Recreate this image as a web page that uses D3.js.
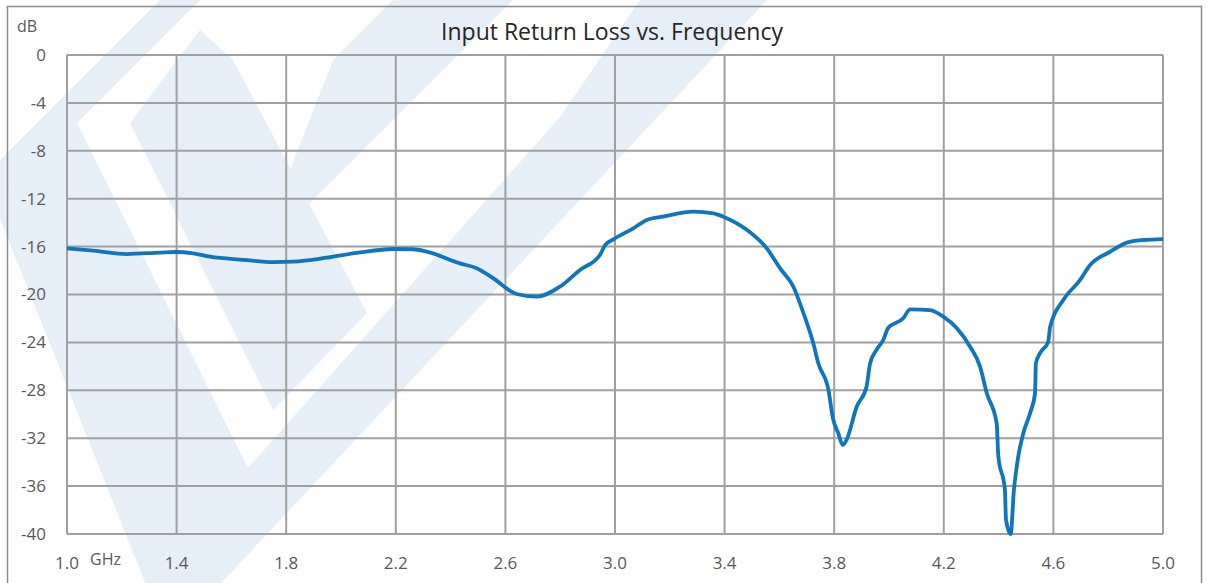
<!DOCTYPE html>
<html>
<head>
<meta charset="utf-8">
<script src="https://cdn.jsdelivr.net/npm/d3@7"></script>
<style>
  body { margin: 0; background: #fff; }
  text { font-family: "Open Sans", "Noto Sans", sans-serif; }
</style>
</head>
<body>
<div id="chart"></div>
<script>
// frequency (GHz) and return loss (dB)
const freq = [1.000, 1.096, 1.218, 1.339, 1.394, 1.461, 1.522, 1.643, 1.753, 1.826,
  1.948, 2.069, 2.191, 2.264, 2.313, 2.434, 2.495, 2.556, 2.641, 2.714,
  2.799, 2.872, 2.945, 2.964, 2.994, 3.067, 3.116, 3.176, 3.286, 3.359,
  3.395, 3.481, 3.554, 3.602, 3.651, 3.687, 3.724, 3.742, 3.779, 3.795,
  3.815, 3.831, 3.845, 3.882, 3.918, 3.931, 3.955, 3.979, 3.997, 4.052,
  4.077, 4.150, 4.198, 4.247, 4.296, 4.332, 4.357, 4.393, 4.399, 4.423,
  4.427, 4.444, 4.456, 4.472, 4.490, 4.515, 4.533, 4.536, 4.551, 4.581,
  4.588, 4.636, 4.697, 4.734, 4.807, 4.868, 4.928, 5.000];
const loss = [-16.14, -16.34, -16.62, -16.50, -16.45, -16.56, -16.84, -17.10, -17.30, -17.26,
  -16.93, -16.48, -16.20, -16.22, -16.42, -17.40, -17.80, -18.65, -19.96, -20.18,
  -19.35, -17.95, -16.70, -15.87, -15.40, -14.47, -13.78, -13.50, -13.08, -13.22,
  -13.50, -14.60, -16.15, -17.80, -19.35, -21.50, -24.10, -25.75, -27.97, -30.30,
  -31.60, -32.57, -32.15, -29.37, -27.70, -25.75, -24.60, -23.80, -22.80, -21.99,
  -21.24, -21.30, -21.85, -22.80, -24.36, -26.00, -28.25, -30.75, -33.50, -36.30,
  -38.80, -40.00, -36.30, -33.50, -31.60, -29.90, -28.25, -25.75, -24.90, -23.95,
  -22.70, -20.46, -18.80, -17.54, -16.43, -15.67, -15.45, -15.37];

const xTicks = [1.0, 1.4, 1.8, 2.2, 2.6, 3.0, 3.4, 3.8, 4.2, 4.6, 5.0];
const yTicks = [0, -4, -8, -12, -16, -20, -24, -28, -32, -36, -40];

const width = 1207, height = 583;
const margin = { top: 55, right: 44, bottom: 49, left: 67 };

const svg = d3.select("#chart")
  .append("svg")
  .attr("width", width)
  .attr("height", height);

// faint logo watermark behind the chart (decoration, not data)
const wmShapes = [
  [[160, 0], [200, 0], [0, 200], [0, 160]],
  [[0, 200], [77, 123], [248, 468], [560, 117], [640, 0], [767, 0], [168, 640], [0, 219]],
  [[130, 123], [177, 60], [200, 30], [233, 60], [367, 313], [273, 410]],
  [[290, 170], [333, 60], [393, 0], [513, 0], [308, 205]]
];
svg.append("g").selectAll("path").data(wmShapes).enter().append("path")
  .attr("d", d => "M" + d.join("L") + "Z")
  .attr("fill", "#e6eef7");

// outer frame
svg.append("rect")
  .attr("x", 7.5).attr("y", 6.5)
  .attr("width", 1194).attr("height", 600)
  .attr("fill", "none")
  .attr("stroke", "#8c8c8c")
  .attr("stroke-width", 1.5);

const x = d3.scaleLinear().domain([1, 5]).range([margin.left, width - margin.right]);
const y = d3.scaleLinear().domain([-40, 0]).range([height - margin.bottom, margin.top]);

const grid = svg.append("g").attr("stroke", "#a0a0a0").attr("stroke-width", 2);
grid.selectAll("line.v").data(xTicks).enter().append("line")
  .attr("x1", d => x(d)).attr("x2", d => x(d))
  .attr("y1", y(0)).attr("y2", y(-40));
grid.selectAll("line.h").data(yTicks).enter().append("line")
  .attr("x1", x(1)).attr("x2", x(5))
  .attr("y1", d => y(d)).attr("y2", d => y(d));

// tick labels
svg.append("g").selectAll("text").data(yTicks).enter().append("text")
  .attr("x", 46).attr("y", d => y(d))
  .attr("dy", "0.35em")
  .attr("text-anchor", "end")
  .attr("font-size", 17)
  .attr("fill", "#595959")
  .text(d => d);

svg.append("g").selectAll("text").data(xTicks).enter().append("text")
  .attr("x", d => x(d)).attr("y", 563)
  .attr("dy", "0.35em")
  .attr("text-anchor", "middle")
  .attr("font-size", 17)
  .attr("fill", "#595959")
  .text(d => d.toFixed(1));

svg.append("text").attr("x", 17).attr("y", 26).attr("dy", "0.35em")
  .attr("font-size", 16).attr("fill", "#595959").text("dB");
svg.append("text").attr("x", 90).attr("y", 559).attr("dy", "0.35em")
  .attr("font-size", 16).attr("fill", "#595959").text("GHz");

svg.append("text")
  .attr("x", 612).attr("y", 32).attr("dy", "0.35em")
  .attr("text-anchor", "middle")
  .attr("font-size", 23)
  .attr("fill", "#262626")
  .text("Input Return Loss vs. Frequency");

const data = freq.map((f, i) => ({ f, v: loss[i] }));
const line = d3.line()
  .x(d => x(d.f))
  .y(d => y(d.v))
  .curve(d3.curveMonotoneX);

svg.append("path")
  .datum(data)
  .attr("fill", "none")
  .attr("stroke", "#0F75BC")
  .attr("stroke-width", 3.8)
  .attr("stroke-linejoin", "round")
  .attr("d", line);
</script>
</body>
</html>
